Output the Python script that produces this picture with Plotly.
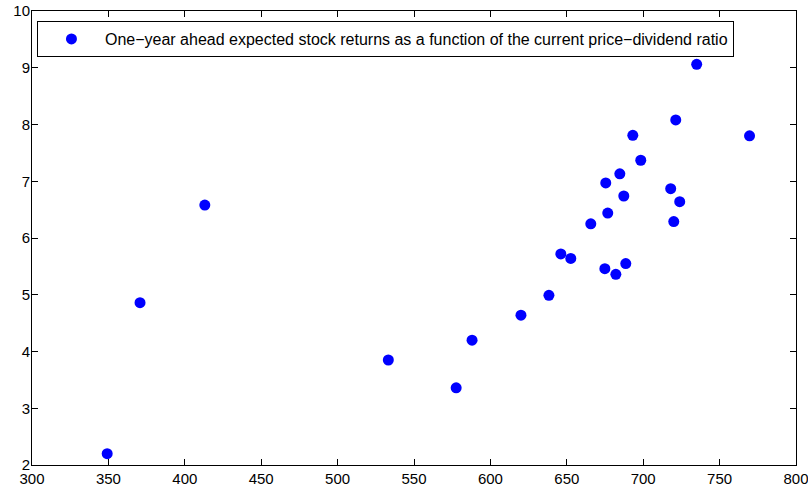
import plotly.graph_objects as go

pd_ratio = [349.2, 370.7, 413.1, 533.2, 577.6, 588.0, 620.0, 638.3, 646.1, 652.6,
            665.7, 674.9, 675.5, 676.8, 682.1, 684.7, 687.3, 688.6, 693.2, 698.4,
            718.0, 720.0, 721.3, 723.9, 735.0, 769.6]
exp_returns = [2.20, 4.86, 6.58, 3.85, 3.36, 4.20, 4.64, 4.99, 5.72, 5.64,
               6.25, 5.46, 6.97, 6.44, 5.36, 7.13, 6.74, 5.55, 7.81, 7.37,
               6.87, 6.29, 8.08, 6.64, 9.06, 7.80]
series_name = "One\u2212year ahead expected stock returns as a function of the current price\u2212dividend ratio"
x_ticks = [300, 350, 400, 450, 500, 550, 600, 650, 700, 750, 800]
y_ticks = [2, 3, 4, 5, 6, 7, 8, 9, 10]

fig = go.Figure()
fig.add_trace(go.Scatter(
    x=pd_ratio, y=exp_returns, mode="markers", name=series_name,
    marker=dict(color="#0000FF", size=11, line=dict(width=0)),
))

axis_common = dict(
    showgrid=False, zeroline=False, showline=True, linecolor="black", linewidth=1,
    mirror="ticks", ticks="inside", ticklen=6, tickcolor="black", tickwidth=1,
    automargin=False, ticklabeloverflow="allow",
    tickfont=dict(family="Liberation Sans, Arial", size=15, color="black"),
)
fig.update_xaxes(range=[300, 800], tickvals=x_ticks, **axis_common)
fig.update_yaxes(range=[2, 10], tickvals=y_ticks, ticklabelstandoff=-2, **axis_common)

fig.update_layout(
    width=808, height=493,
    margin=dict(l=32, r=12, t=11, b=28),
    paper_bgcolor="white", plot_bgcolor="white",
    font=dict(family="Liberation Sans, Arial", size=15, color="black"),
    showlegend=True,
    legend=dict(x=0.0065, y=0.978, xanchor="left", yanchor="top",
                bgcolor="white", bordercolor="black", borderwidth=1,
                itemwidth=57, font=dict(size=16)),
)

# remove the default page margin so the figure sits at the window's top-left corner
fig.write_html("out.html", config={"displayModeBar": False},
               post_script="document.body.style.margin='0';")
